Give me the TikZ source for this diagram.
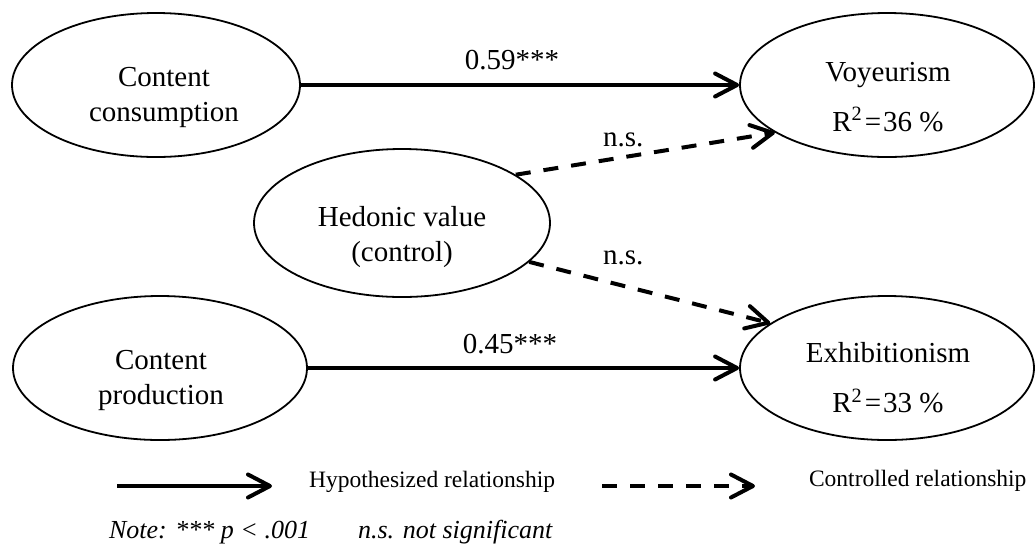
\documentclass[tikz,border=0pt]{standalone}
\usepackage{fontspec}
\setmainfont{Liberation Serif}
\usepackage{tikz}
\usetikzlibrary{arrows.meta,positioning,shapes.geometric}

\begin{document}
\begin{tikzpicture}[x=0.5pt,y=-0.5pt,
  every node/.style={align=center,font=\fontsize{14.5}{17.5}\selectfont},
  latent/.style={draw,ellipse,line width=0.9pt,inner sep=0pt},
  hypo/.style={-{Straight Barb[length=11pt,width=11.5pt,round]},line width=2pt},
  ctrl/.style={hypo,dash pattern=on 7.5pt off 6.5pt},
  legend/.style={anchor=west,font=\fontsize{11.75}{14}\selectfont},
  note/.style={anchor=west,font=\fontsize{13}{15.5}\selectfont\itshape}]

  \useasboundingbox (0,0) rectangle (1035,548);

  % constructs
  \node[latent,minimum width=144pt,minimum height=72pt] (cons) at (156,85) {};
  \node (cons-t) at (164,97) {Content\\consumption};
  \node[latent,minimum width=147pt,minimum height=72pt] (prod) at (160,368) {};
  \node (prod-t) at (161,380) {Content\\production};
  \node[latent,minimum width=148pt,minimum height=74pt] (hed) at (402,223) {};
  \node (hed-t) at (402,237) {Hedonic value\\(control)};
  \node[latent,minimum width=147pt,minimum height=72pt] (voy) at (887,85) {};
  \node (voy-t) at (888,97) {Voyeurism\\[7.5pt]R\textsuperscript{2}\kern1pt=\kern1pt36 \%};
  \node[latent,minimum width=147pt,minimum height=72pt] (exh) at (887,368) {};
  \node (exh-t) at (888,378) {Exhibitionism\\[7.5pt]R\textsuperscript{2}\kern1pt=\kern1pt33 \%};

  % paths
  \draw[hypo] (cons) -- (voy) node[midway,yshift=12.5pt,xshift=-4pt] (b1) {0.59***};
  \draw[hypo] (prod) -- (exh) node[midway,yshift=12pt,xshift=-6.75pt] (b2) {0.45***};
  \draw[ctrl] (hed.23) -- (voy.203) node[pos=0.415,yshift=8.5pt] (ns1) {n.s.};
  \draw[ctrl] (hed.-17) -- (exh.159) node[pos=0.39,yshift=14pt] (ns2) {n.s.};

  % legend
  \coordinate (h1) at (117,486);
  \coordinate (h2) at (272,486);
  \draw[hypo] (h1) -- (h2);
  \node[legend] (hyp) at (302,482) {Hypothesized relationship};
  \coordinate (c1) at (602,486);
  \coordinate (c2) at (755,486);
  \draw[ctrl] (c1) -- (c2);
  \node[legend] (ctl) at (802,481) {Controlled relationship};

  \node[note] (nt) at (102,532) {Note: *** p < .001\hspace{24pt}n.s. not significant};
\end{tikzpicture}
\end{document}
